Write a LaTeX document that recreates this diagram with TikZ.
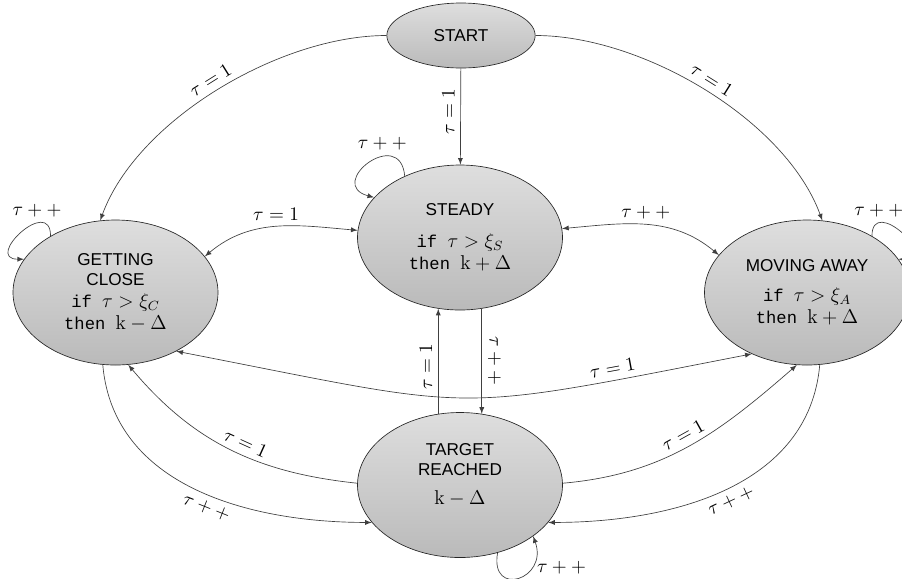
\RequirePackage{fix-cm}
\documentclass[tikz,border=0pt]{standalone}
\usepackage[no-math]{fontspec}
\newfontfamily\statefont{Liberation Sans}
\newfontfamily\codefont{Liberation Mono}
\usepackage{amsmath}
\usepackage{tikz}
\usetikzlibrary{positioning}
\usetikzlibrary{arrows,shapes.geometric}

\definecolor{stTop}{RGB}{222,222,222}
\definecolor{stBot}{RGB}{186,186,186}

\newcommand{\stmath}[1]{{\fontsize{12}{13.2}\selectfont$#1$}}
\newcommand{\stcond}[2]{{\codefont #1\ }\stmath{#2}}

\begin{document}
\begin{tikzpicture}[x=0.6pt,y=-0.6pt,>=latex,
    state/.style={ellipse,draw=black!85,top color=stTop,bottom color=stBot,
      minimum width=123pt,minimum height=87pt,inner sep=0pt,align=center,
      font=\statefont\fontsize{10.3}{12.2}\selectfont},
    lbl/.style={font=\fontsize{11.5}{13}\selectfont,inner sep=3.5pt},
    every edge/.style={draw=black!75,line width=0.4pt}]
  \useasboundingbox (0,0) rectangle (902,578);

  \node[state,minimum width=89pt,minimum height=39pt] (start) at (461,35.5) {START};
  \node[state] (steady) at (460,237.5) {STEADY\\[7pt]\stcond{if}{\tau>\xi_S}\\[1pt]\stcond{then}{\mathrm{k}+\Delta}};
  \node[state] (gc) at (115.5,292.5) {GETTING\\CLOSE\\[1pt]\stcond{if}{\tau>\xi_C}\\[1pt]\stcond{then}{\mathrm{k}-\Delta}};
  \node[state] (ma) at (807,292.5) {MOVING AWAY\\[6pt]\stcond{if}{\tau>\xi_A}\\[1pt]\stcond{then}{\mathrm{k}+\Delta}};
  \node[state] (tr) at (460,485) {TARGET\\REACHED\\[5pt]\stmath{\mathrm{k}-\Delta}\\[1pt]\mbox{}};

  % leaving START
  \path[->] (start.west) edge[out=180,in=70,looseness=0.8] node[lbl,sloped,above,pos=0.5] {$\tau=1$} (gc.102)
    (start) edge node[lbl,sloped,above,pos=0.45] {$\tau=1$} (steady)
    (start.east) edge[out=0,in=110,looseness=0.8] node[lbl,sloped,above,pos=0.5] {$\tau=1$} (ma.78);

  % both ways
  \path[<->] (gc.22) edge[out=40,in=175] node[lbl,above] {$\tau=1$} (steady.176)
    (steady.5) edge[out=5,in=140] node[lbl,above] {$\tau++$} (ma.157)
    (gc.-44) edge[out=-11,in=191,looseness=1.4] node[lbl,sloped,above,pos=0.82] {$\tau=1$} (ma.228);

  % STEADY and TARGET REACHED
  \path[->] (steady.-73) edge node[lbl,sloped,allow upside down,above] {$\tau++$} (tr.73)
    (tr.107) edge node[lbl,sloped,above,pos=0.45] {$\tau=1$} (steady.-107);

  % TARGET REACHED and the sides
  \path[->] (tr.179) edge[out=174,in=-50] node[lbl,sloped,above,pos=0.45] {$\tau=1$} (gc.-80)
    (gc.-100) edge[out=-85,in=180] node[lbl,sloped,below,pos=0.55] {$\tau++$} (tr.203)
    (tr.1) edge[out=5,in=221] node[lbl,sloped,above] {$\tau=1$} (ma.-98)
    (ma.-80) edge[out=-95,in=0] node[lbl,sloped,below] {$\tau++$} (tr.-23);

  % self loops
  \path[->] (gc.139) edge[out=90,in=180,looseness=3] node[lbl,above,pos=0.3] {$\tau++$} (gc.160)
    (steady.132) edge[out=95,in=165,looseness=3.5] node[lbl,above,pos=0.35] {$\tau++$} (steady.155)
    (ma.41) edge[out=90,in=0,looseness=3] node[lbl,above,pos=0.3,xshift=-4pt] {$\tau++$} (ma.20)
    (tr.-61) edge[out=-100,in=-70,looseness=3] node[lbl,right,pos=0.7] {$\tau++$} (tr.-35);
\end{tikzpicture}
\end{document}
